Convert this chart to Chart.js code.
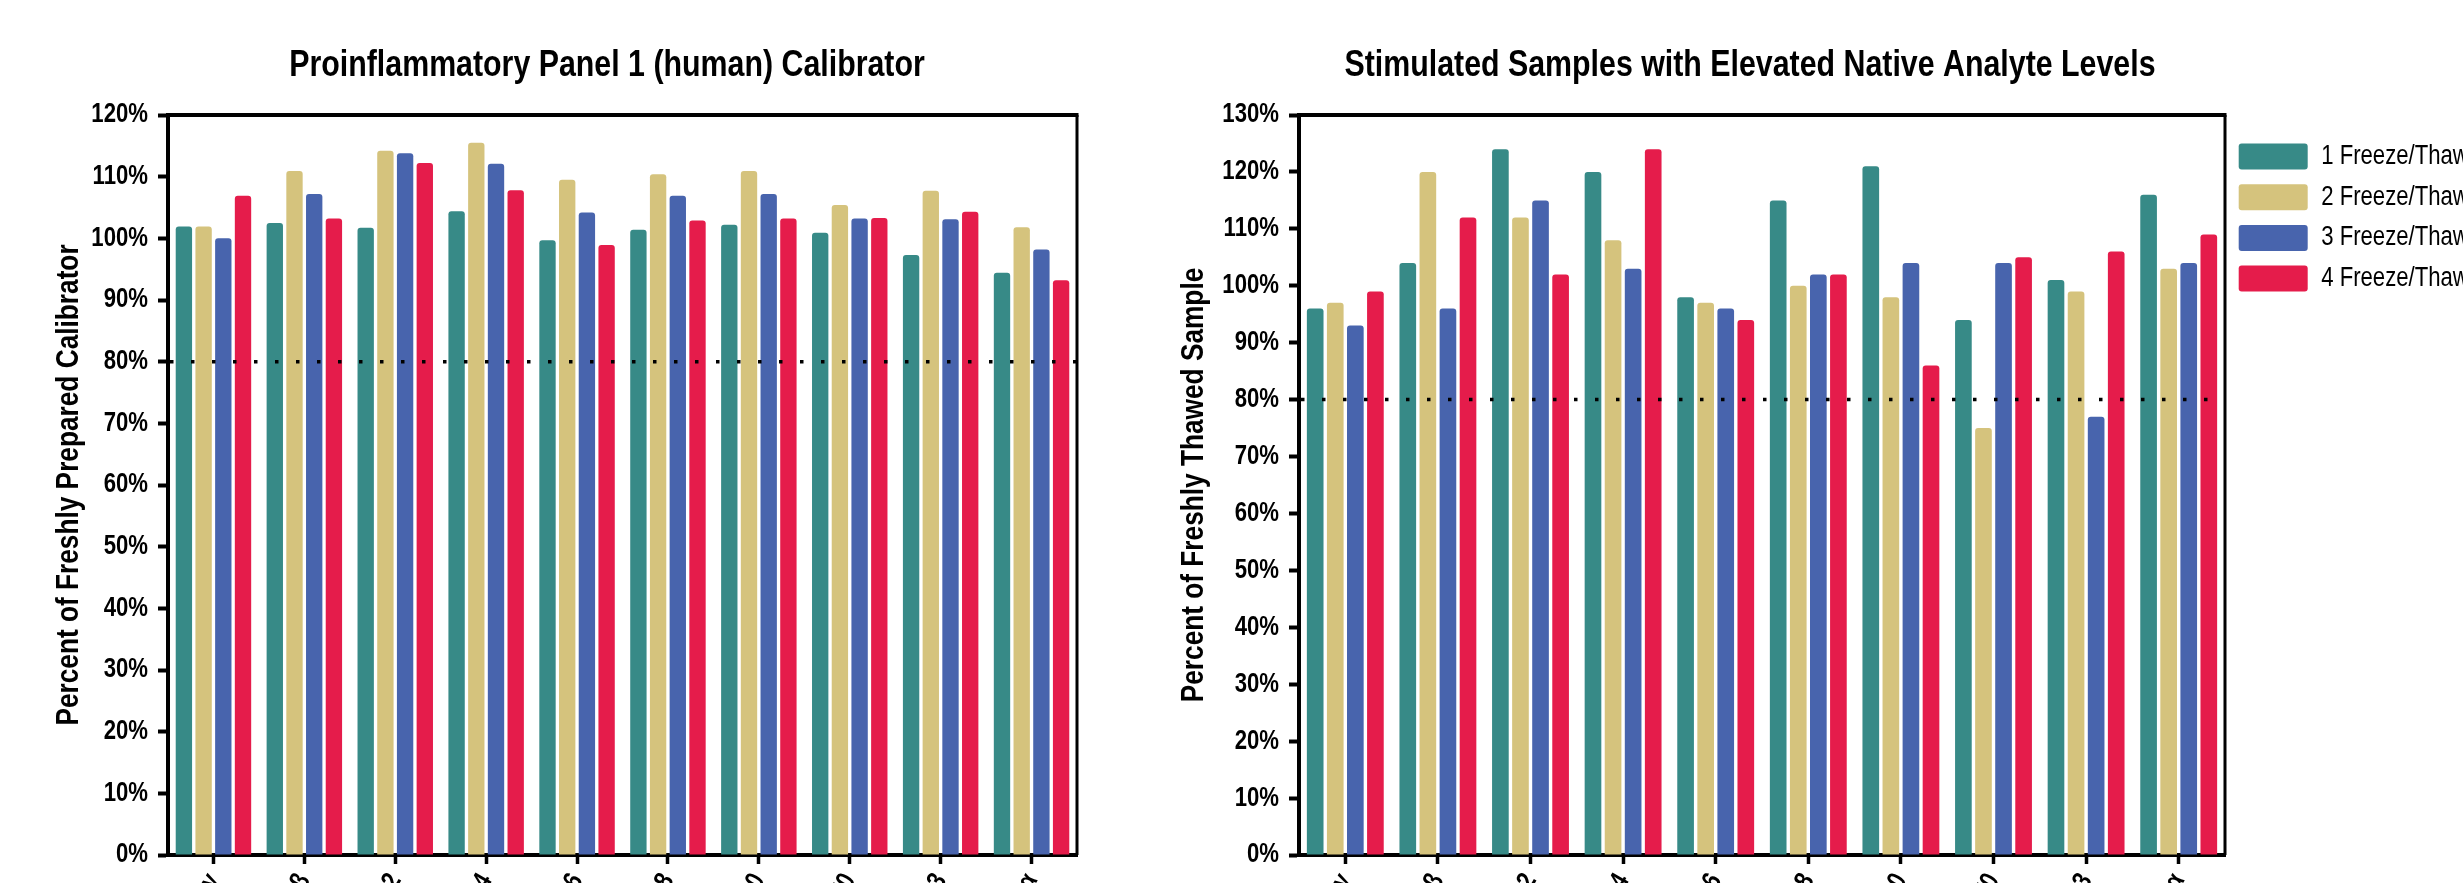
<!DOCTYPE html>
<html>
<head>
<meta charset="utf-8">
<script src="https://cdn.jsdelivr.net/npm/chart.js@4.4.1/dist/chart.umd.min.js"></script>
<style>
  html, body { margin: 0; padding: 0; width: 2463px; height: 883px; overflow: hidden; background: #fff; }
  canvas { position: absolute; top: 0; }
  #calibrator { left: 0; }
  #stimulated { left: 1035px; }
</style>
</head>
<body>
<canvas id="calibrator" width="1214" height="883"></canvas>
<canvas id="stimulated" width="1430" height="883"></canvas>
<script>
// Analytes of the proinflammatory panel
const analytes = ['IFN-γ', 'IL-1β', 'IL-2', 'IL-4', 'IL-6', 'IL-8', 'IL-10', 'IL-12p70', 'IL-13', 'TNF-α'];
const cycleNames = ['1 Freeze/Thaw', '2 Freeze/Thaw', '3 Freeze/Thaw', '4 Freeze/Thaw'];
const cycleColors = ['#378A87', '#D5C37D', '#4864AD', '#E51C4B'];

// Calibrator recovery (% of freshly prepared)
const calibratorFT1 = [101.9, 102.5, 101.7, 104.4, 99.7, 101.4, 102.2, 100.9, 97.3, 94.4];
const calibratorFT2 = [101.9, 110.9, 114.2, 115.5, 109.5, 110.4, 110.9, 105.4, 107.7, 101.8];
const calibratorFT3 = [100.0, 107.2, 113.8, 112.1, 104.2, 106.9, 107.2, 103.2, 103.1, 98.2];
const calibratorFT4 = [106.9, 103.2, 112.2, 107.8, 98.9, 102.9, 103.2, 103.3, 104.3, 93.2];

// Stimulated samples (% of freshly thawed)
const stimulatedFT1 = [96, 104, 124, 120, 98, 115, 121, 94, 101, 116];
const stimulatedFT2 = [97, 120, 112, 108, 97, 100, 98, 75, 99, 103];
const stimulatedFT3 = [93, 96, 115, 103, 96, 102, 104, 104, 77, 104];
const stimulatedFT4 = [99, 112, 102, 124, 94, 102, 86, 105, 106, 109];

// Acceptance limit
const acceptanceLimit = 80;

const calibratorTicksMax = 120;
const stimulatedTicksMax = 130;

const FAMILY = "'Liberation Sans', Arial, sans-serif";
const NARROW = 0.82; // horizontal squeeze giving a narrow face

// Draw every label of a canvas in a condensed width
function condense(canvas, k) {
  const ctx = canvas.getContext('2d');
  const fill = ctx.fillText.bind(ctx);
  const measure = ctx.measureText.bind(ctx);
  ctx.fillText = function (text, x, y, maxWidth) {
    this.save();
    this.translate(x, y);
    this.scale(k, 1);
    if (maxWidth === undefined || maxWidth === null) fill(text, 0, 0);
    else fill(text, 0, 0, maxWidth / k);
    this.restore();
  };
  ctx.measureText = function (text) {
    const m = measure(text);
    return {
      width: m.width * k,
      actualBoundingBoxAscent: m.actualBoundingBoxAscent,
      actualBoundingBoxDescent: m.actualBoundingBoxDescent,
      actualBoundingBoxLeft: m.actualBoundingBoxLeft * k,
      actualBoundingBoxRight: m.actualBoundingBoxRight * k
    };
  };
  return canvas;
}

// Dotted horizontal line at the acceptance limit
const limitLine = {
  id: 'limitLine',
  afterDatasetsDraw(chart, args, opts) {
    const { ctx, chartArea: a } = chart;
    const y = chart.scales.y.getPixelForValue(opts.value);
    ctx.save();
    ctx.strokeStyle = '#000';
    ctx.lineWidth = 3.5;
    ctx.setLineDash([3.5, 17.5]);
    ctx.beginPath();
    ctx.moveTo(a.left + 2, y);
    ctx.lineTo(a.right, y);
    ctx.stroke();
    ctx.restore();
  }
};

// Closes the plot box with a top and right edge
const plotFrame = {
  id: 'plotFrame',
  afterDraw(chart) {
    const { ctx, chartArea: a } = chart;
    ctx.save();
    ctx.strokeStyle = '#000';
    ctx.lineWidth = 4;
    ctx.beginPath();
    ctx.moveTo(a.left - 2, a.top);
    ctx.lineTo(a.right + 1.5, a.top);
    ctx.stroke();
    ctx.lineWidth = 3;
    ctx.beginPath();
    ctx.moveTo(a.right, a.top);
    ctx.lineTo(a.right, a.bottom);
    ctx.stroke();
    ctx.restore();
  }
};

function makeDatasets(series) {
  return series.map((values, i) => ({
    label: cycleNames[i],
    data: values,
    backgroundColor: cycleColors[i],
    borderWidth: 0,
    borderRadius: { topLeft: 3, topRight: 3, bottomLeft: 0, bottomRight: 0 },
    borderSkipped: 'start',
    categoryPercentage: 0.867,
    barPercentage: 0.83
  }));
}

function makeOptions(cfg) {
  const scales = {
    x: {
      type: 'category',
      offset: true,
      grid: {
        display: true, drawOnChartArea: false, drawTicks: true, offset: false,
        tickLength: 9, tickWidth: 3.5, tickColor: '#000', color: '#000'
      },
      border: { display: true, color: '#000', width: 4 },
      ticks: {
        autoSkip: false, minRotation: 60, maxRotation: 60, padding: 4,
        color: '#000', font: { family: FAMILY, size: 27, weight: 'bold' }
      },
      afterFit(scale) { scale.height = 28; }
    },
    y: {
      min: 0,
      max: cfg.yMax,
      grid: {
        display: true, drawOnChartArea: false, drawTicks: true,
        tickLength: 10, tickWidth: 4, tickColor: '#000', color: '#000'
      },
      border: { display: true, color: '#000', width: 4 },
      ticks: {
        stepSize: 10, padding: 10, color: '#000',
        font: { family: FAMILY, size: 27, weight: 'bold' },
        callback: (v) => v + '%'
      },
      title: {
        display: true,
        text: cfg.yTitle,
        color: '#000',
        font: { family: FAMILY, size: 32, weight: 'bold', lineHeight: 1.2 },
        padding: { top: cfg.yTitlePad, bottom: 0 }
      },
      afterFit(scale) { scale.width = cfg.yAxisWidth; }
    }
  };
  if (cfg.rightGutter) {
    // empty right-hand margin scale, keeps the title centred on the whole canvas
    scales.gutter = {
      type: 'linear',
      position: 'right',
      grid: { display: false },
      border: { display: false },
      ticks: { display: false },
      afterFit(scale) { scale.width = cfg.rightGutter; }
    };
  }
  return {
    responsive: false,
    animation: false,
    events: [],
    layout: { padding: 0 },
    plugins: {
      title: {
        display: true,
        text: cfg.title,
        color: '#000',
        font: { family: FAMILY, size: 37, weight: 'bold', lineHeight: 1.2 },
        padding: { top: 43.8, bottom: 26.8 }
      },
      legend: cfg.legend,
      tooltip: { enabled: false },
      limitLine: { value: acceptanceLimit }
    },
    scales
  };
}

new Chart(condense(document.getElementById('calibrator'), NARROW), {
  type: 'bar',
  data: {
    labels: analytes,
    datasets: makeDatasets([calibratorFT1, calibratorFT2, calibratorFT3, calibratorFT4])
  },
  options: makeOptions({
    title: 'Proinflammatory Panel 1 (human) Calibrator',
    yTitle: 'Percent of Freshly Prepared Calibrator',
    yMax: calibratorTicksMax,
    rightGutter: 137,
    yAxisWidth: 168,
    yTitlePad: 49.8,
    legend: { display: false }
  }),
  plugins: [limitLine, plotFrame]
});

new Chart(condense(document.getElementById('stimulated'), NARROW), {
  type: 'bar',
  data: {
    labels: analytes,
    datasets: makeDatasets([stimulatedFT1, stimulatedFT2, stimulatedFT3, stimulatedFT4])
  },
  options: makeOptions({
    title: 'Stimulated Samples with Elevated Native Analyte Levels',
    yTitle: 'Percent of Freshly Thawed Sample',
    yMax: stimulatedTicksMax,
    rightGutter: 0,
    yAxisWidth: 264,
    yTitlePad: 139.8,
    legend: {
      display: true,
      position: 'right',
      align: 'start',
      fullSize: false,
      maxWidth: 240,
      title: { display: true, text: '', font: { size: 10, lineHeight: 1.43 }, padding: 0 },
      labels: {
        boxWidth: 69, boxHeight: 26, padding: 13.7,
        useBorderRadius: true, borderRadius: 3,
        color: '#000',
        font: { family: FAMILY, size: 27, weight: 'normal' }
      }
    }
  }),
  plugins: [limitLine, plotFrame]
});
</script>
</body>
</html>
